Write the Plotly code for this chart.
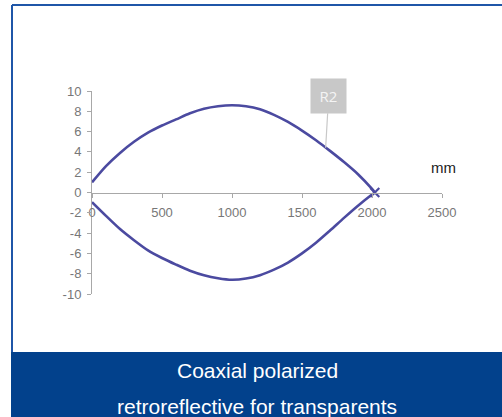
import plotly.graph_objects as go

# Data (distance in mm, spot half-size)
upper_x = [0, 100, 200, 300, 400, 500, 600, 700, 800, 900, 1000, 1100, 1200, 1300, 1400, 1500, 1600, 1700, 1800, 1900, 2000, 2020]
upper_y = [1.0, 2.6, 3.9, 5.0, 5.9, 6.6, 7.2, 7.8, 8.25, 8.5, 8.6, 8.5, 8.2, 7.65, 6.95, 6.1, 5.15, 4.1, 3.0, 1.8, 0.35, 0.0]
lower_x = [0, 100, 200, 300, 400, 500, 600, 700, 800, 900, 1000, 1100, 1200, 1300, 1400, 1500, 1600, 1700, 1800, 1900, 2000, 2020]
lower_y = [-0.95, -2.3, -3.6, -4.7, -5.7, -6.45, -7.1, -7.7, -8.15, -8.45, -8.6, -8.48, -8.15, -7.6, -6.9, -6.0, -4.95, -3.75, -2.5, -1.3, -0.2, 0.0]
cross_x = [2020]
cross_y = [0]
label_x = 1669
label_y = 4.4

x_ticks = [0, 500, 1000, 1500, 2000, 2500]
y_ticks = [10, 8, 6, 4, 2, 0, -2, -4, -6, -8, -10]

W, H = 502, 417
L, R, T, B = 92, 60, 91, 123
PW, PH = W - L - R, H - T - B


def px(x):
    return (x - L) / PW


def py(y):
    return (H - B - y) / PH


line_color = "#4b4aa0"
fig = go.Figure()
for xs, ys in ((upper_x, upper_y), (lower_x, lower_y)):
    fig.add_trace(go.Scatter(x=xs, y=ys, mode="lines",
                             line=dict(color=line_color, width=2.6, shape="spline", smoothing=0.8),
                             showlegend=False, hoverinfo="skip"))
fig.add_trace(go.Scatter(x=cross_x, y=cross_y, mode="markers",
                         marker=dict(symbol="x-thin", size=9, line=dict(color=line_color, width=2.2)),
                         showlegend=False, hoverinfo="skip", cliponaxis=False))

axis_font = dict(family="Liberation Sans, Arial", size=13, color="#777777")
fig.update_layout(
    width=W, height=H,
    margin=dict(l=L, r=R, t=T, b=B),
    paper_bgcolor="white", plot_bgcolor="white",
    xaxis=dict(range=[0, 2500], tickvals=x_ticks, ticktext=[str(v) for v in x_ticks],
               showgrid=False, zeroline=False, showline=True, linecolor="#a8a8a8", linewidth=1,
               ticks="outside", ticklen=4, tickcolor="#a8a8a8", ticklabelstandoff=4,
               anchor="free", position=0.5, tickfont=axis_font, fixedrange=True),
    yaxis=dict(range=[-10, 10], tickvals=y_ticks, ticktext=[str(v) for v in y_ticks],
               showgrid=False, zeroline=False, showline=True, linecolor="#a8a8a8", linewidth=1,
               ticks="outside", ticklen=4, tickcolor="#a8a8a8", ticklabelstandoff=3,
               tickfont=axis_font, fixedrange=True),
    shapes=[
        # frame
        dict(type="line", xref="paper", yref="paper", x0=px(12), x1=px(12), y0=py(5), y1=py(352),
             line=dict(color="#1f56a8", width=2)),
        dict(type="line", xref="paper", yref="paper", x0=px(12), x1=px(510), y0=py(5), y1=py(5),
             line=dict(color="#1f56a8", width=2)),
        # bottom banner
        dict(type="rect", xref="paper", yref="paper", x0=px(11), x1=px(510), y0=py(352), y1=py(420),
             fillcolor="#02418c", line=dict(width=0), layer="above"),
    ],
    annotations=[
        dict(x=label_x, y=label_y, xref="x", yref="y", text="R2", showarrow=True, arrowhead=0,
             arrowwidth=1.2, arrowcolor="#c8c8c8", ax=3, ay=-52, bgcolor="#c8c8c8", width=33, height=32,
             font=dict(family="Open Sans, Liberation Sans", size=15, color="#f4f4f4")),
        dict(x=px(443), y=py(167), xref="paper", yref="paper", text="mm", showarrow=False,
             xanchor="center", yanchor="middle",
             font=dict(family="Liberation Sans, Arial", size=15, color="#222222")),
        dict(x=px(257), y=py(370), xref="paper", yref="paper", text="Coaxial polarized", showarrow=False,
             xanchor="center", yanchor="middle",
             font=dict(family="Liberation Sans, Arial", size=21, color="white")),
        dict(x=px(257), y=py(406), xref="paper", yref="paper", text="retroreflective for transparents",
             xanchor="center", yanchor="middle",
             showarrow=False, font=dict(family="Liberation Sans, Arial", size=21, color="white")),
    ],
)

fig.write_html("out.html", config=dict(displayModeBar=False),
               post_script="document.body.style.margin='0';document.body.style.overflow='hidden';")
